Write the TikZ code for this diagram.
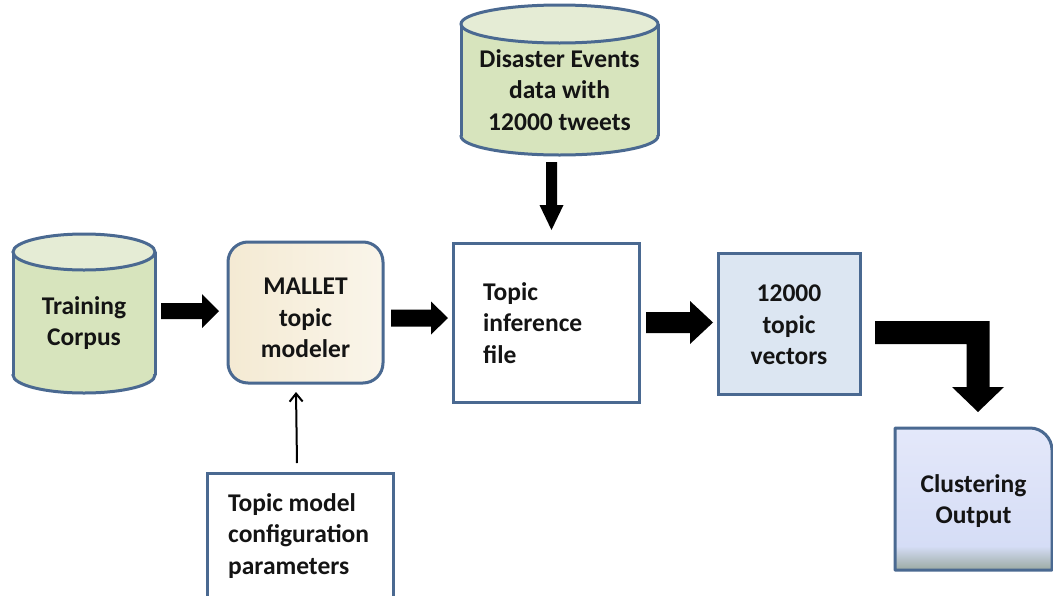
\documentclass[tikz,border=0pt]{standalone}
\usepackage{fontspec}
\setmainfont{Carlito}
\usetikzlibrary{calc,arrows.meta}

\definecolor{edge}{RGB}{74,105,145}
\definecolor{cylbody}{RGB}{215,228,189}
\definecolor{cyltop}{RGB}{229,236,213}
\definecolor{beigeA}{RGB}{244,234,211}
\definecolor{beigeB}{RGB}{250,245,234}
\definecolor{vecblue}{RGB}{220,230,242}
\definecolor{clA}{RGB}{228,232,250}
\definecolor{clB}{RGB}{213,221,246}
\definecolor{clC}{RGB}{155,170,162}
\definecolor{ink}{RGB}{20,20,20}

% cylinder: centre x, x radius, top centre y, bottom centre y, y radius
\newcommand\drawcyl[5]{%
  \fill[cylbody] (#1-#2,#3) rectangle (#1+#2,#4);
  \fill[cylbody] (#1,#4) ellipse [x radius=#2, y radius=#5];
  \begin{scope}
    \clip (#1-#2-5,#4-1) rectangle (#1+#2+5,#4+#5+5);
    \draw[edgeline] (#1,#4) ellipse [x radius=#2, y radius=#5];
  \end{scope}
  \draw[edgeline] (#1-#2,#3) -- (#1-#2,#4) (#1+#2,#3) -- (#1+#2,#4);
  \draw[edgeline, fill=cyltop] (#1,#3) ellipse [x radius=#2, y radius=#5];
}

% block arrow pointing right: start, end, shaft half, head half, head length
\newcommand\blockright[5]{%
  \fill[black] let \p1=#1, \p2=#2 in
    (\x1,\y1+#3) -- (\x2-#5,\y1+#3) -- (\x2-#5,\y1+#4) -- (\x2,\y1)
    -- (\x2-#5,\y1-#4) -- (\x2-#5,\y1-#3) -- (\x1,\y1-#3) -- cycle;
}
% block arrow pointing down: start, end, shaft half, head half, head length
\newcommand\blockdown[5]{%
  \fill[black] let \p1=#1, \p2=#2 in
    (\x1-#3,\y1) -- (\x1-#3,\y2+#5) -- (\x1-#4,\y2+#5) -- (\x1,\y2)
    -- (\x1+#4,\y2+#5) -- (\x1+#3,\y2+#5) -- (\x1+#3,\y1) -- cycle;
}
% bent block arrow: right, then down
\newcommand\blockbent[5]{%
  \fill[black] let \p1=#1, \p2=#2 in
    (\x1,\y1+#3) -- (\x2+#3,\y1+#3) -- (\x2+#3,\y2+#5) -- (\x2+#4,\y2+#5)
    -- (\x2,\y2) -- (\x2-#4,\y2+#5) -- (\x2-#3,\y2+#5) -- (\x2-#3,\y1-#3)
    -- (\x1,\y1-#3) -- cycle;
}

\begin{document}
\begin{tikzpicture}[x=1pt, y=-1pt,
  edgeline/.style={draw=edge, line width=3pt},
  txt/.style={font=\bfseries\fontsize{25.5}{31.5}\selectfont, text=ink, align=center, inner sep=0pt},
  shapebox/.style={inner sep=0pt, outer sep=0pt},
  thin/.style={line width=2pt, -{Straight Barb[length=8pt, width=13pt, line width=2pt]}}]

\useasboundingbox (0,0) rectangle (1053,595);
\clip (0,0) rectangle (1053,595);
\fill[white] (0,0) rectangle (1053,595);

% data stores
\drawcyl{84}{71}{252}{375}{18}
\node[shapebox, minimum width=142pt, minimum height=158pt] (corpus) at (84,314) {};
\node[txt] (corpustxt) at (84,323) {Training\\Corpus};

\drawcyl{559.5}{98.5}{24}{136}{19}
\node[shapebox, minimum width=197pt, minimum height=150pt] (disaster) at (559.5,80) {};
\node[txt] (disastertxt) at (559.5,90) {Disaster Events\\data with\\12000 tweets};

% processing boxes
\node[shapebox, edgeline, rounded corners=20pt, shading angle=120,
      left color=beigeA, right color=beigeB,
      minimum width=155pt, minimum height=141pt] (mallet) at (305.5,312.5) {};
\node[txt] (mallettxt) at (305.5,318) {MALLET\\topic\\modeler};

\node[shapebox, edgeline, fill=white, minimum width=186pt, minimum height=159pt] (infer) at (546,322.5) {};
\node[txt, align=left, anchor=west] (infertxt) at (483,323) {Topic\\inference\\file};

\node[shapebox, edgeline, fill=vecblue, minimum width=142pt, minimum height=141pt] (vectors) at (789,323.5) {};
\node[txt] (vectorstxt) at (789,325) {12000\\topic\\vectors};

\node[shapebox, edgeline, fill=white, minimum width=186pt, minimum height=150pt, anchor=north west] (config) at (207,473) {};
\node[txt, align=left, anchor=west] (configtxt) at (228,536) {Topic model\\configuration\\parameters};

% output box with one rounded corner
\node[shapebox, minimum width=157pt, minimum height=142pt] (clust) at (973.5,499) {};
\begin{scope}
  \clip (clust.south west) -- (clust.north west) -- ($(clust.north east)+(-22,0)$)
    .. controls ($(clust.north east)+(-10,0)$) and ($(clust.north east)+(0,10)$) .. ($(clust.north east)+(0,22)$)
    -- (clust.south east) -- cycle;
  \shade[top color=clA, bottom color=clB] (clust.north west) rectangle ($(clust.south east)+(0,-24)$);
  \shade[top color=clB, bottom color=clC] ($(clust.south west)+(0,-24)$) rectangle (clust.south east);
\end{scope}
\draw[edgeline, line join=round] (clust.south west) -- (clust.north west) -- ($(clust.north east)+(-22,0)$)
    .. controls ($(clust.north east)+(-10,0)$) and ($(clust.north east)+(0,10)$) .. ($(clust.north east)+(0,22)$)
    -- (clust.south east) -- cycle;
\node[txt] (clusttxt) at (973.5,501) {Clustering\\Output};

% connectors
\blockright{($(corpus.east)+(6,-3)$)}{($(mallet.west)+(-9,0)$)}{8pt}{17pt}{17pt}
\blockright{($(mallet.east)+(8,5.5)$)}{($(infer.west)+(-5,0)$)}{8.5pt}{16.5pt}{17pt}
\blockright{($(infer.east)+(7,0)$)}{($(vectors.west)+(-5,0)$)}{10.5pt}{21.5pt}{23pt}
\blockdown{($(disaster.south)+(-8,7)$)}{($(infer.north)+(0,-13)$)}{5.5pt}{12pt}{25pt}
\blockbent{($(vectors.east)+(15,9)$)}{($(clust.north)+(4.5,-16)$)}{11.5pt}{26pt}{25pt}
\draw[thin] ($(config.north)+(-3,-10)$) -- ($(mallet.south)+(-9.5,9)$);

\end{tikzpicture}
\end{document}
